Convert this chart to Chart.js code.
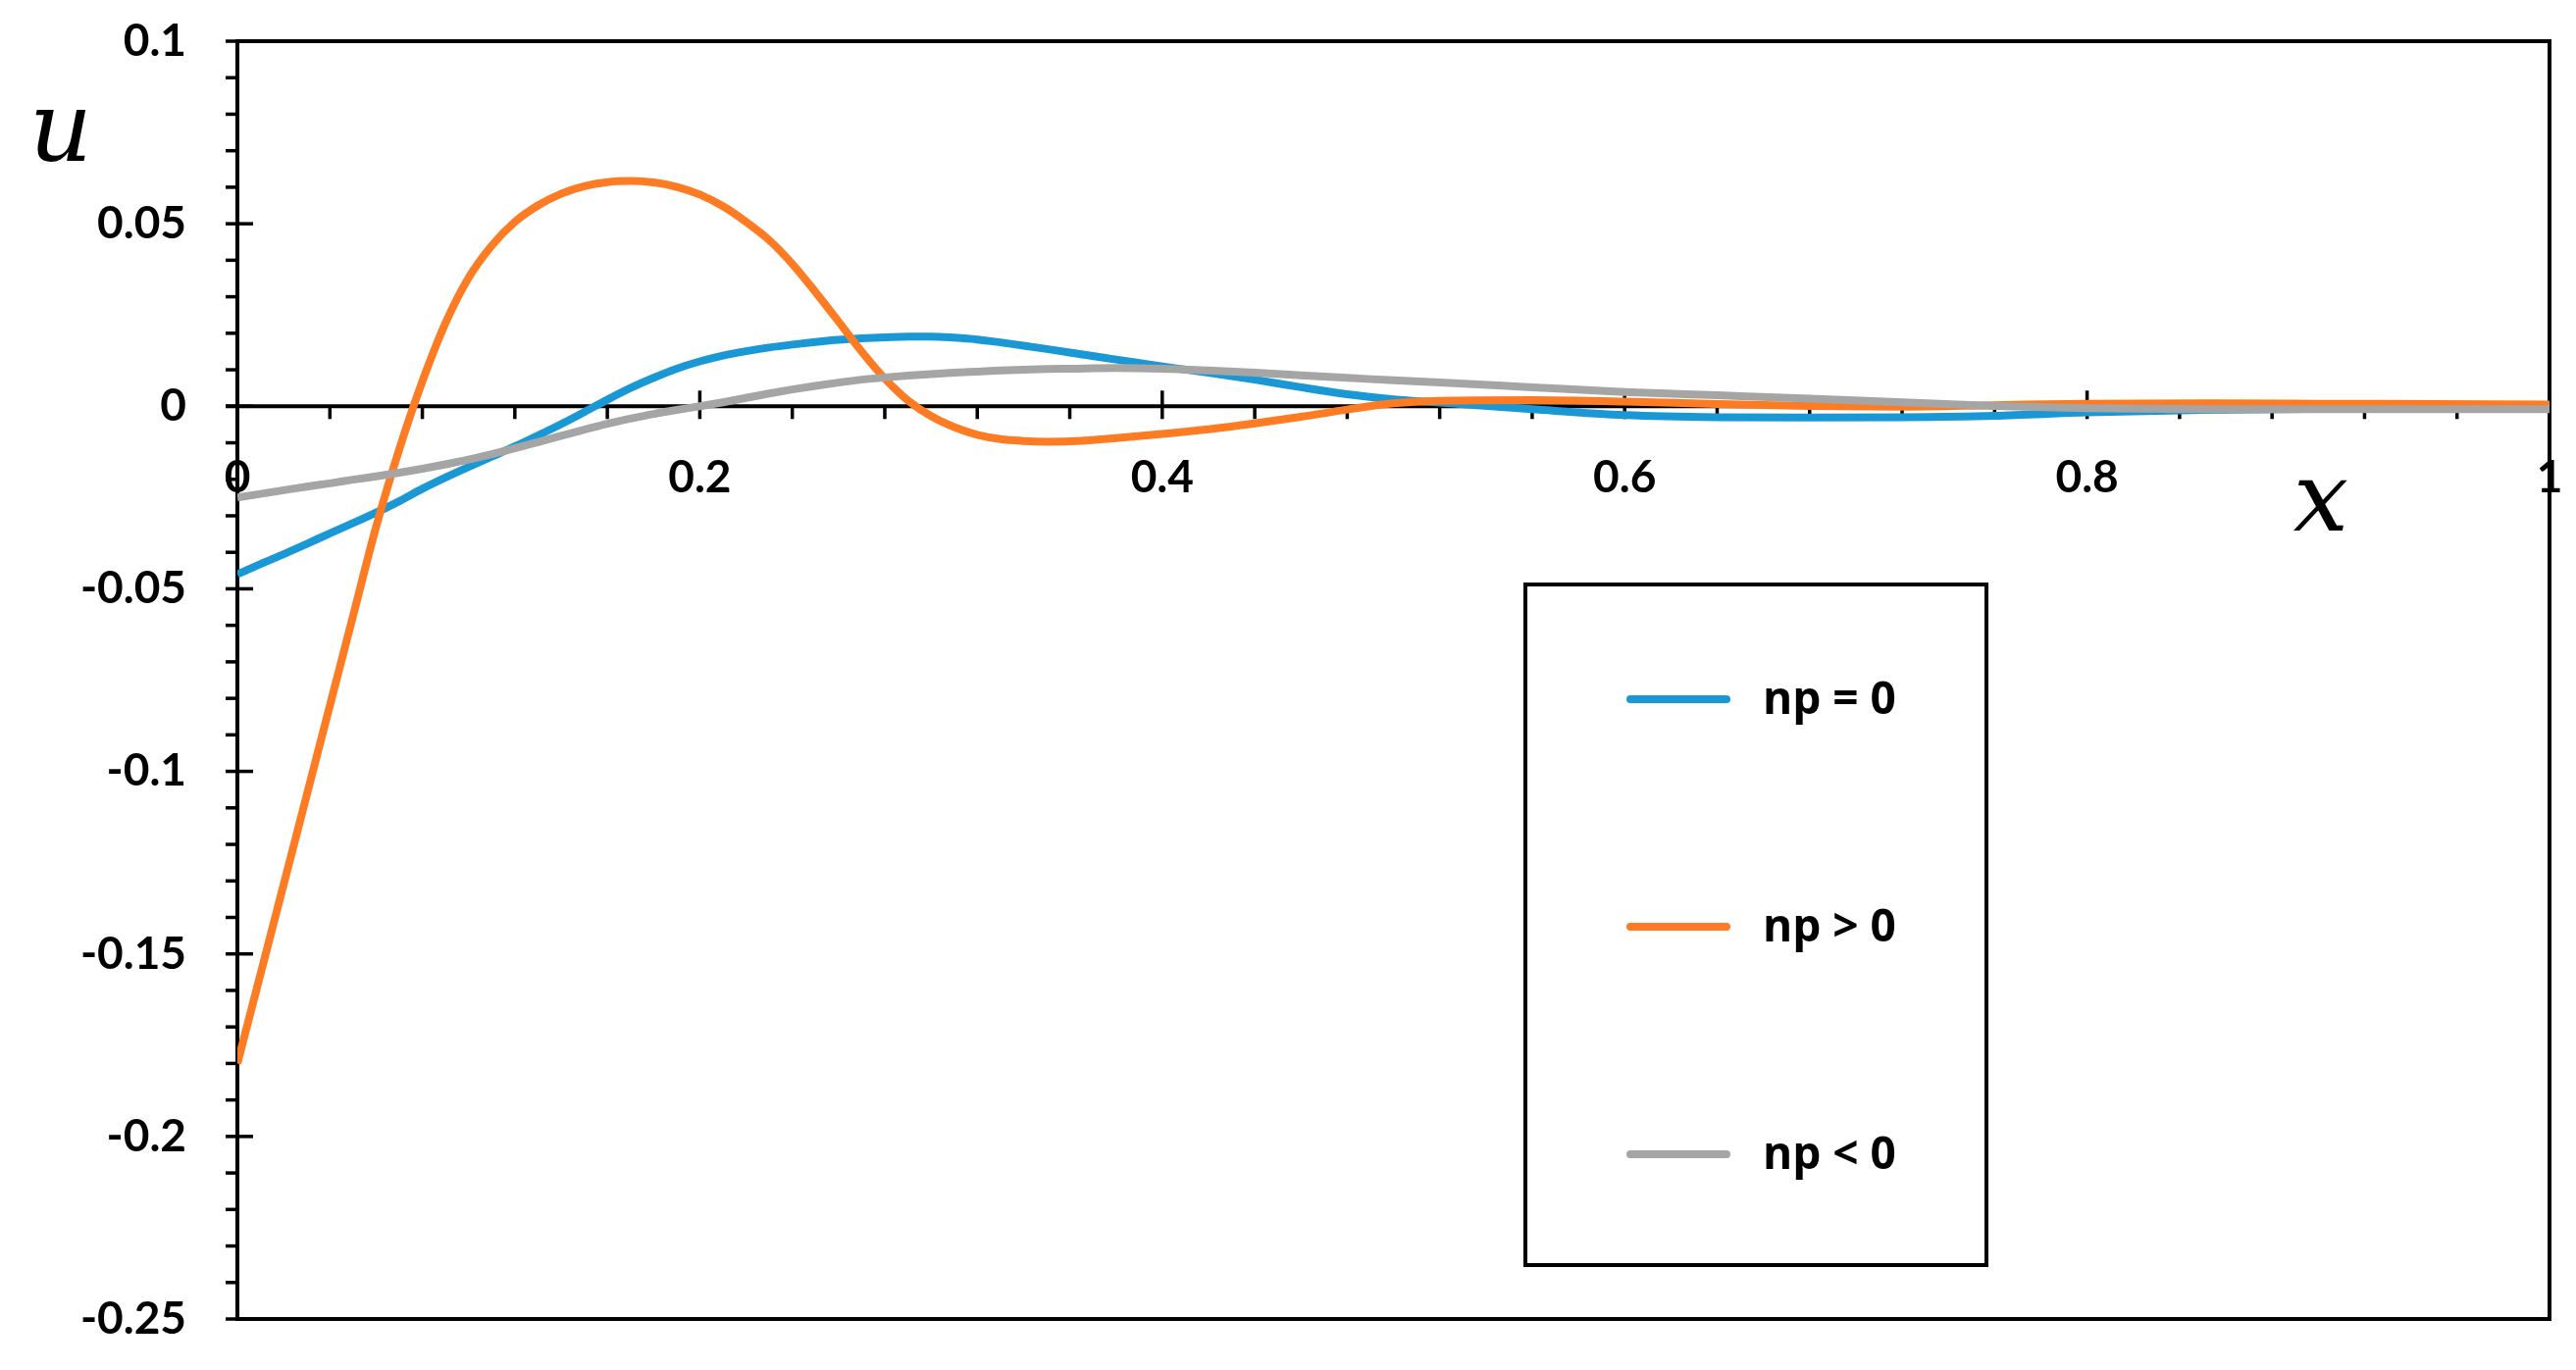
<!DOCTYPE html>
<html>
<head>
<meta charset="utf-8">
<script src="https://cdn.jsdelivr.net/npm/chart.js@4.4.1/dist/chart.umd.min.js"></script>
<style>
  html, body { margin: 0; padding: 0; background: #fff; }
  canvas { display: block; }
</style>
</head>
<body>
<canvas id="grafico" width="2626" height="1397"></canvas>
<script>
// valores de x (comuns as tres series)
const xValues = [
  0, 0.01, 0.02, 0.03, 0.04, 0.05, 0.06, 0.07, 0.08, 0.09,
  0.10, 0.11, 0.12, 0.13, 0.14, 0.15, 0.16, 0.17, 0.18, 0.19,
  0.20, 0.21, 0.22, 0.23, 0.24, 0.25, 0.26, 0.27, 0.28, 0.29,
  0.30, 0.31, 0.32, 0.33, 0.34, 0.35, 0.36,
  0.38, 0.40, 0.42, 0.44, 0.46, 0.48, 0.50, 0.52,
  0.56, 0.60, 0.64, 0.68, 0.72, 0.76, 0.80,
  0.85, 0.90, 0.95, 1.00,
];

// np = 0
const uNpZero = [
  -0.046, -0.0432, -0.0405, -0.0377, -0.0348, -0.032, -0.0291, -0.026, -0.0226, -0.0195,
  -0.0166, -0.0138, -0.011, -0.008, -0.0049, -0.0016, 0.0018, 0.005, 0.0078, 0.0103,
  0.0123, 0.0139, 0.0151, 0.0161, 0.0169, 0.0176, 0.0182, 0.0186, 0.0189, 0.0191,
  0.0191, 0.0188, 0.0183, 0.0175, 0.0166, 0.0157, 0.0147,
  0.0128, 0.0109, 0.0092, 0.0073, 0.0052, 0.0033, 0.0019, 0.001,
  -0.0008, -0.0024, -0.003, -0.0031, -0.003, -0.0026, -0.0017,
  -0.001, -0.0007, -0.0006, -0.0005,
];

// np > 0
const uNpPos = [
  -0.18, -0.1555, -0.131, -0.1065, -0.082, -0.0575, -0.033, -0.0118, 0.0068, 0.0228,
  0.0352, 0.044, 0.0505, 0.055, 0.0582, 0.0603, 0.0614, 0.0617, 0.0613, 0.0601,
  0.058, 0.0548, 0.0505, 0.0455, 0.039, 0.0313, 0.0232, 0.015, 0.0076, 0.0016,
  -0.0027, -0.0057, -0.0078, -0.009, -0.0095, -0.0097, -0.0096,
  -0.0087, -0.0076, -0.0063, -0.0047, -0.0029, -0.0009, 0.0008, 0.0015,
  0.0017, 0.0013, 0.0006, 0.0001, -0.0001, 0.0003, 0.0007,
  0.0008, 0.0007, 0.0006, 0.0005,
];

// np < 0
const uNpNeg = [
  -0.025, -0.024, -0.023, -0.022, -0.0211, -0.0201, -0.0192, -0.0182, -0.0171, -0.0159,
  -0.0146, -0.0131, -0.0115, -0.0098, -0.0081, -0.0064, -0.0048, -0.0034, -0.0021, -0.001,
  0.0, 0.0011, 0.0023, 0.0035, 0.0046, 0.0056, 0.0065, 0.0073, 0.0079, 0.0084,
  0.0088, 0.0092, 0.0095, 0.0098, 0.01, 0.0102, 0.0103,
  0.0105, 0.0103, 0.0098, 0.0092, 0.0085, 0.0078, 0.0071, 0.0065,
  0.0052, 0.0039, 0.003, 0.0021, 0.0011, 0.0001, -0.0005,
  -0.0008, -0.0008, -0.0008, -0.0008,
];

const seriesLabels = ["np = 0", "np > 0", "np < 0"];
const seriesColors = ["#1a98d5", "#fd7b22", "#a5a5a5"];
const yTicks = [0.1, 0.05, 0, -0.05, -0.1, -0.15, -0.2, -0.25];
const xTicks = [0, 0.2, 0.4, 0.6, 0.8, 1];

function formatNum(v) {
  return String(parseFloat(v.toFixed(2)));
}

function toPoints(ys) {
  return xValues.map((x, i) => ({ x: x, y: ys[i] }));
}

// moldura, eixo x em u = 0, marcas e titulos dos eixos
const eixosPlugin = {
  id: "eixos",
  beforeDatasetsDraw(chart) {
    const { ctx, chartArea: a, scales } = chart;
    const x = scales.x;
    const y = scales.y;
    ctx.save();
    ctx.strokeStyle = "#000";
    ctx.lineWidth = 4;
    ctx.strokeRect(a.left, a.top, a.right - a.left, a.bottom - a.top);

    // marcas do eixo y (a cada 0.01)
    ctx.lineWidth = 3.5;
    for (let i = -25; i <= 10; i++) {
      const py = y.getPixelForValue(i / 100);
      const major = i % 5 === 0;
      ctx.beginPath();
      ctx.moveTo(a.left - 12, py);
      ctx.lineTo(major ? a.left + 16 : a.left, py);
      ctx.stroke();
    }

    // eixo x em u = 0
    const y0 = y.getPixelForValue(0);
    ctx.lineWidth = 4;
    ctx.beginPath();
    ctx.moveTo(a.left - 12, y0);
    ctx.lineTo(a.right, y0);
    ctx.stroke();

    ctx.lineWidth = 3.5;
    for (let i = 1; i <= 25; i++) {
      const px = x.getPixelForValue(i * 0.04);
      const major = i % 5 === 0;
      ctx.beginPath();
      ctx.moveTo(px, major ? y0 - 16 : y0);
      ctx.lineTo(px, y0 + 13);
      ctx.stroke();
    }

    ctx.fillStyle = "#000";
    ctx.font = "bold 46px Lato";
    ctx.textAlign = "center";
    ctx.textBaseline = "middle";
    xTicks.forEach((v) => {
      ctx.fillText(formatNum(v), x.getPixelForValue(v), y0 + 73);
    });

    ctx.font = 'italic 100px "DejaVu Serif"';
    ctx.textBaseline = "alphabetic";
    ctx.fillText("u", 62, 164);
    ctx.fillText("x", 2366, 541);
    ctx.restore();
  },
};

// legenda dentro da caixa
const legendaPlugin = {
  id: "legendaCaixa",
  afterDraw(chart) {
    const { ctx } = chart;
    ctx.save();
    ctx.strokeStyle = "#000";
    ctx.lineWidth = 4;
    ctx.strokeRect(1555, 596, 470, 694);
    ctx.lineCap = "round";
    ctx.font = 'bold 46px "Open Sans"';
    ctx.textAlign = "left";
    ctx.textBaseline = "middle";
    chart.data.datasets.forEach((ds, i) => {
      const py = 713 + i * 232;
      ctx.strokeStyle = ds.borderColor;
      ctx.lineWidth = 8;
      ctx.beginPath();
      ctx.moveTo(1662, py);
      ctx.lineTo(1760, py);
      ctx.stroke();
      ctx.fillStyle = "#000";
      ctx.fillText(ds.label, 1797, py + 2);
    });
    ctx.restore();
  },
};

const seriesData = [uNpZero, uNpPos, uNpNeg];

new Chart(document.getElementById("grafico").getContext("2d"), {
  type: "line",
  data: {
    datasets: seriesData.map((ys, i) => ({
      label: seriesLabels[i],
      data: toPoints(ys),
      borderColor: seriesColors[i],
      borderWidth: 8,
      pointRadius: 0,
      fill: false,
      cubicInterpolationMode: "monotone",
      order: 3 - i,
    })),
  },
  options: {
    responsive: false,
    animation: false,
    devicePixelRatio: 1,
    layout: {
      padding: { top: 42, right: 27, bottom: 52, left: 0 },
    },
    plugins: {
      legend: { display: false },
      tooltip: { enabled: false },
    },
    scales: {
      x: {
        type: "linear",
        min: 0,
        max: 1,
        display: false,
      },
      y: {
        min: -0.25,
        max: 0.1,
        afterFit: (scale) => {
          scale.width = 242;
          scale.paddingTop = 0;
          scale.paddingBottom = 0;
        },
        afterBuildTicks: (scale) => {
          scale.ticks = yTicks.map((v) => ({ value: v }));
        },
        grid: { display: false, drawTicks: false },
        border: { display: false },
        ticks: {
          autoSkip: false,
          padding: 52,
          color: "#000",
          font: { family: "Lato", weight: "bold", size: 46 },
          callback: (v) => formatNum(v),
        },
      },
    },
  },
  plugins: [eixosPlugin, legendaPlugin],
});
</script>
</body>
</html>
